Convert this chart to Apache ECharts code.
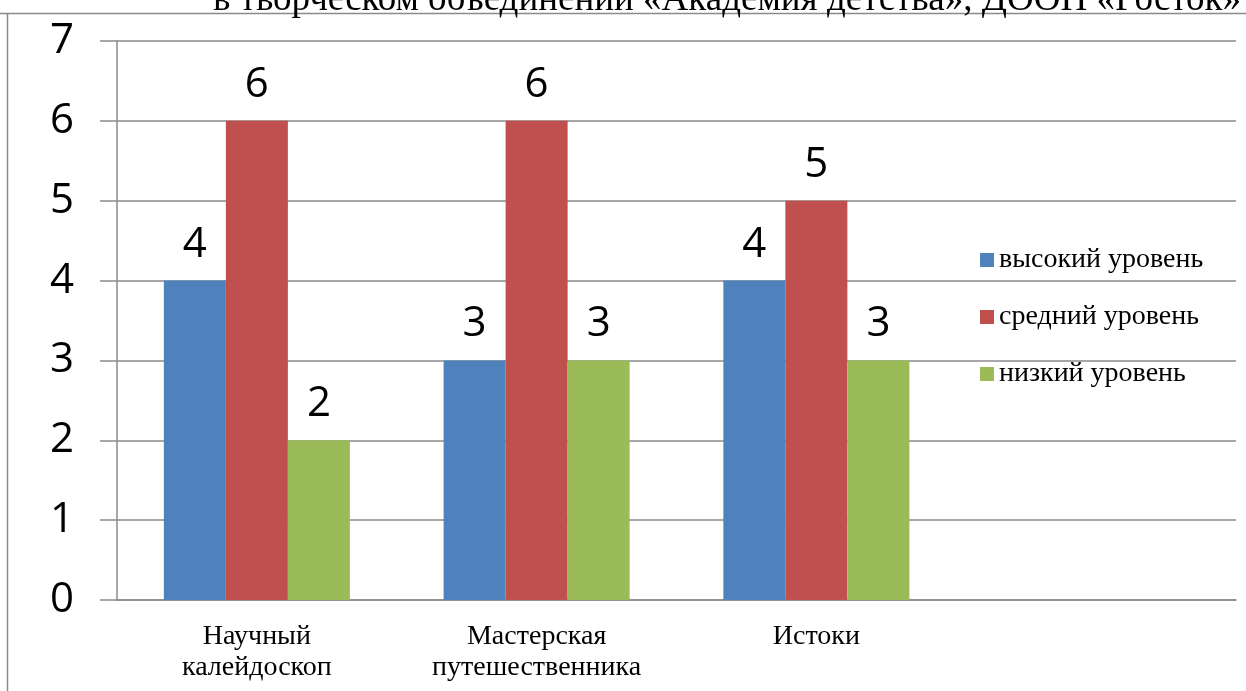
<!DOCTYPE html>
<html><head><meta charset="utf-8">
<script src="https://cdn.jsdelivr.net/npm/echarts@6/dist/echarts.min.js"></script>
<style>html,body{margin:0;padding:0;background:#fff}#c{width:1246px;height:691px}</style>
</head><body><div id="c"></div>
<script>
const titleText = 'в творческом объединении «Академия детства», ДООП «Росток»';
const categories = ['Научный\nкалейдоскоп', 'Мастерская\nпутешественника', 'Истоки', ''];
const seriesNames = ['высокий уровень', 'средний уровень', 'низкий уровень'];
const highValues = [4, 3, 4, null];
const midValues = [6, 6, 5, null];
const lowValues = [2, 3, 3, null];
const yTicks = [0, 1, 2, 3, 4, 5, 6, 7];
const colors = ['#4F81BD', '#C0504D', '#9BBB59'];

const chart = echarts.init(document.getElementById('c'));
const labelStyle = {show: true, position: 'top', distance: 15, fontFamily: 'Open Sans', fontSize: 42, color: '#000'};
const valuesList = [highValues, midValues, lowValues];
chart.setOption({
  animation: false,
  graphic: [
    {type: 'line', shape: {x1: 0, y1: 13.5, x2: 1246, y2: 13.5}, style: {stroke: '#8a8a8a', lineWidth: 1.5}},
    {type: 'line', shape: {x1: 7.5, y1: 13, x2: 7.5, y2: 691}, style: {stroke: '#8a8a8a', lineWidth: 1.5}},
    {type: 'text', x: 213, y: 19, style: {text: titleText, font: '37px "Liberation Serif"', fill: '#000', verticalAlign: 'bottom'}}
  ],
  grid: {left: 117, right: 10, top: 41, bottom: 91, containLabel: false},
  legend: {
    orient: 'vertical', left: 975, top: 241, itemGap: 29, itemWidth: 14, itemHeight: 14,
    icon: 'rect', data: seriesNames,
    textStyle: {fontFamily: 'Liberation Serif', fontSize: 28, color: '#000'}
  },
  xAxis: {
    type: 'category', data: categories,
    axisLine: {lineStyle: {color: '#8a8a8a', width: 1.5}},
    axisTick: {length: 8, lineStyle: {color: '#8a8a8a', width: 1.5}},
    axisLabel: {fontFamily: 'Liberation Serif', fontSize: 28, color: '#000', lineHeight: 31, margin: 21, interval: 0}
  },
  yAxis: {
    type: 'value', min: 0, max: 7, interval: 1,
    axisLine: {show: true, lineStyle: {color: '#8a8a8a', width: 1.5}},
    axisTick: {show: true, length: 17, lineStyle: {color: '#8a8a8a', width: 1.5}},
    splitLine: {lineStyle: {color: '#8a8a8a', width: 1.5}},
    axisLabel: {fontFamily: 'Open Sans', fontSize: 42, color: '#000', margin: 43,
      formatter: v => yTicks.includes(v) ? String(v) : ''}
  },
  series: seriesNames.map((n, i) => ({
    name: n, type: 'bar', data: valuesList[i], barGap: '0%', barCategoryGap: '33.5%',
    itemStyle: {color: colors[i]}, label: labelStyle
  }))
});
</script></body></html>
